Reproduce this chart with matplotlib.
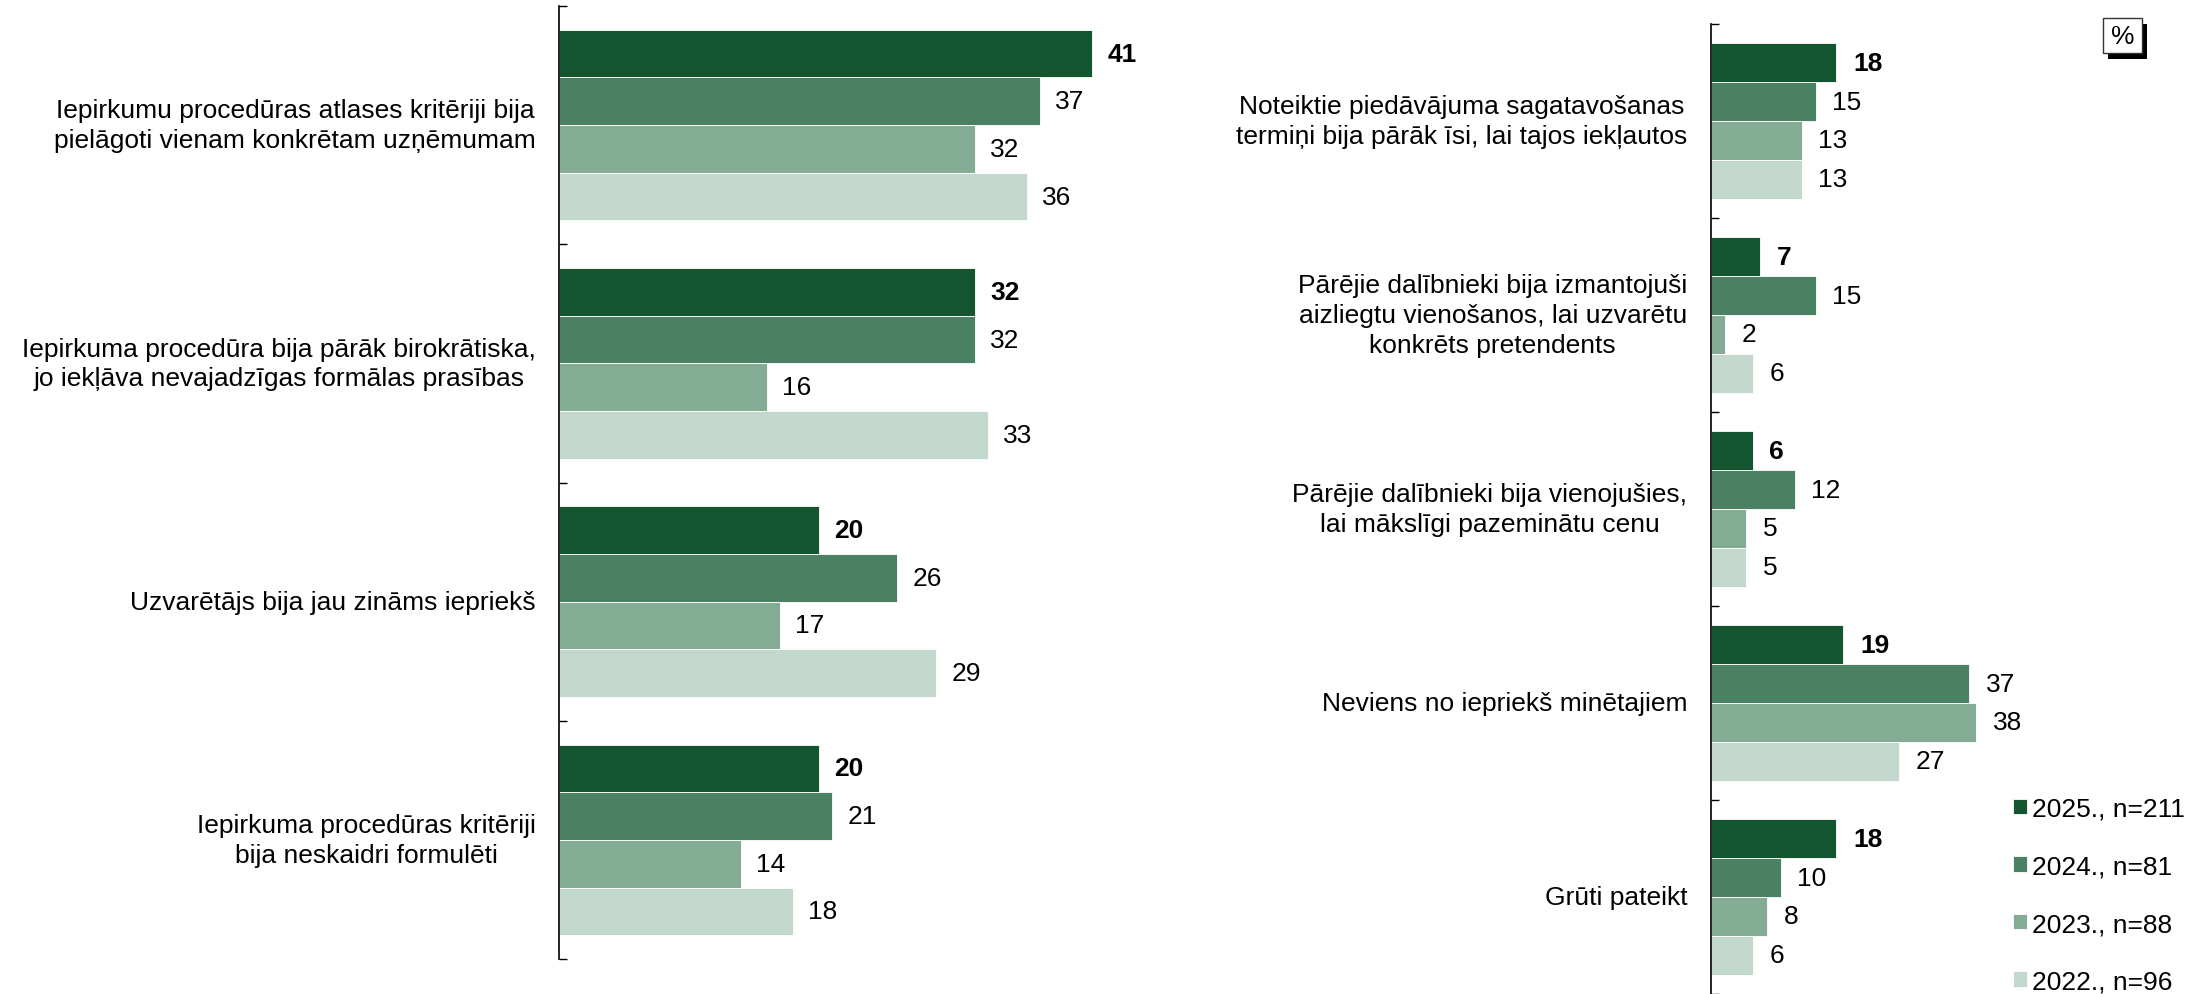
import matplotlib
matplotlib.use("Agg")
import matplotlib.pyplot as plt
from matplotlib.patches import Rectangle
from matplotlib import transforms
import numpy as np

plt.rcParams['font.family'] = ['Liberation Sans', 'DejaVu Sans']

series = ["2025., n=211", "2024., n=81", "2023., n=88", "2022., n=96"]
colors = ["#12552F", "#4B8163", "#84AB93", "#C3D8CC"]

left_cats = [
    "Iepirkumu procedūras atlases kritēriji bija\npielāgoti vienam konkrētam uzņēmumam",
    "Iepirkuma procedūra bija pārāk birokrātiska,\njo iekļāva nevajadzīgas formālas prasības",
    "Uzvarētājs bija jau zināms iepriekš",
    "Iepirkuma procedūras kritēriji\nbija neskaidri formulēti",
]
left_2025 = [41, 32, 20, 20]
left_2024 = [37, 32, 26, 21]
left_2023 = [32, 16, 17, 14]
left_2022 = [36, 33, 29, 18]

right_cats = [
    "Noteiktie piedāvājuma sagatavošanas\ntermiņi bija pārāk īsi, lai tajos iekļautos",
    "Pārējie dalībnieki bija izmantojuši\naizliegtu vienošanos, lai uzvarētu\nkonkrēts pretendents",
    "Pārējie dalībnieki bija vienojušies,\nlai mākslīgi pazeminātu cenu",
    "Neviens no iepriekš minētajiem",
    "Grūti pateikt",
]
right_2025 = [18, 7, 6, 19, 18]
right_2024 = [15, 15, 12, 37, 10]
right_2023 = [13, 2, 5, 38, 8]
right_2022 = [13, 6, 5, 27, 6]

FS = 19

fig = plt.figure(figsize=(22.04, 9.95), dpi=100)
axl = fig.add_axes([559/2204, 35/995, 45*13.0/2204, 953/995])
axr = fig.add_axes([1711/2204, 0.0, 40*6.97/2204, 970/995])


def draw(ax, cats, vals, xmax, offset, label_pad):
    n = len(cats)
    bh = 0.2
    for j, v in enumerate(vals):
        y = np.arange(n) + 0.2 + j * bh
        bars = ax.barh(y, v, height=bh, color=colors[j], label=series[j],
                       edgecolor='white', linewidth=0.6)
        ax.bar_label(bars, labels=[str(x) for x in v], padding=offset, fontsize=FS,
                     fontweight='bold' if j == 0 else 'normal', color='black')
    ax.set_xlim(0, xmax)
    ax.set_ylim(n, 0)
    for s in ['top', 'right', 'bottom']:
        ax.spines[s].set_visible(False)
    ax.spines['left'].set_linewidth(1.2)
    ax.set_xticks([])
    ax.set_yticks(np.arange(n + 1))
    ax.set_yticklabels([])
    ax.tick_params(axis='y', which='major', direction='in', length=5.5, width=1)
    trans = transforms.offset_copy(ax.get_yaxis_transform(), fig=fig,
                                   x=-label_pad, y=0, units='points')
    for i, c in enumerate(cats):
        ax.text(0, i + 0.5, c, transform=trans, ha='right', va='center',
                multialignment='center', fontsize=FS, linespacing=1.3)


draw(axl, left_cats, [left_2025, left_2024, left_2023, left_2022], 45, 11, 16.5)
draw(axr, right_cats, [right_2025, right_2024, right_2023, right_2022], 40, 12, 17)

handles, labels = axr.get_legend_handles_labels()
fig.legend(handles, labels, loc='upper left', bbox_to_anchor=(2013/2204, 197/995),
           frameon=False, fontsize=FS, borderpad=0, borderaxespad=0,
           handlelength=0.53, handleheight=0.53, handletextpad=0.18, labelspacing=1.27)

# "%" box with shadow
W, H = 2204, 995
fig.patches.append(Rectangle((2108/W, (H - 60)/H), 39/W, 35/H, transform=fig.transFigure,
                             facecolor='black', edgecolor='none'))
fig.patches.append(Rectangle((2103/W, (H - 54)/H), 39/W, 35/H, transform=fig.transFigure,
                             facecolor='white', edgecolor='#333333', linewidth=1))
fig.text(2122.5/W, (H - 36.5)/H, "%", ha='center', va='center', fontsize=FS)

fig.savefig("out.png", dpi=100)
